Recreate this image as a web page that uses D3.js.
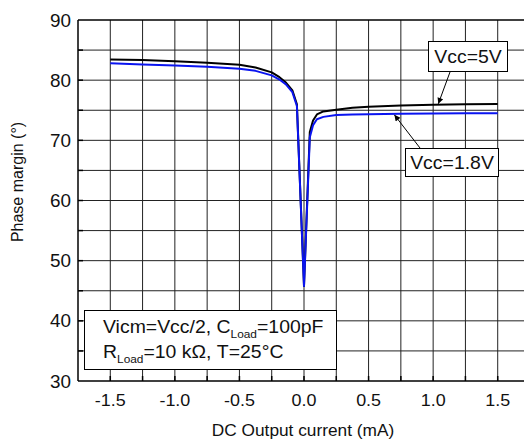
<!DOCTYPE html>
<html>
<head>
<meta charset="utf-8">
<script src="https://cdn.jsdelivr.net/npm/d3@7/dist/d3.min.js"></script>
<style>
  html, body { margin: 0; padding: 0; background: #fff; }
  svg { display: block; font-family: "Liberation Sans", Arial, sans-serif; }
</style>
</head>
<body>
<svg id="chart" width="524" height="441"></svg>
<script>
// Output current (mA) sample points
const currents = [-1.5, -1.25, -1.0, -0.75, -0.5, -0.375, -0.25, -0.19, -0.14, -0.09, -0.055, 0,
                  0.045, 0.07, 0.1, 0.15, 0.25, 0.375, 0.5, 0.75, 1.0, 1.25, 1.5];
// Phase margin (deg) at Vcc = 5 V
const pm5V = [83.45, 83.35, 83.15, 82.9, 82.55, 82.1, 81.3, 80.5, 79.6, 78.3, 76.0, 45.8,
              71.4, 73.3, 74.3, 74.8, 75.1, 75.4, 75.6, 75.8, 75.9, 76.0, 76.05];
// Phase margin (deg) at Vcc = 1.8 V
const pm1V8 = [82.8, 82.6, 82.45, 82.25, 81.9, 81.55, 80.8, 80.1, 79.3, 78.0, 75.7, 45.8,
               70.5, 72.5, 73.5, 73.9, 74.2, 74.3, 74.35, 74.4, 74.45, 74.5, 74.5];

const xTicks = [-1.5, -1.0, -0.5, 0.0, 0.5, 1.0, 1.5];
const xGrid = [-1.5, -1.25, -1.0, -0.75, -0.5, -0.25, 0, 0.25, 0.5, 0.75, 1.0, 1.25, 1.5];
const yTicks = [30, 40, 50, 60, 70, 80, 90];
const yGrid = [35, 40, 45, 50, 55, 60, 65, 70, 75, 80, 85];

const svg = d3.select("#chart");
const x = d3.scaleLinear().domain([-1.75, 1.75]).range([78, 530]);
const y = d3.scaleLinear().domain([30, 90]).range([381, 20]);

// text placed at (px, py) with a slight horizontal widening of the glyphs
function wideText(parent, px, py, sx, anchor, size) {
  return parent.append("g").attr("transform", `translate(${px},${py}) scale(${sx},1)`)
    .append("text").attr("text-anchor", anchor).attr("font-size", size).attr("fill", "#111");
}

// grid
const grid = svg.append("g").attr("stroke", "#222").attr("stroke-width", 1);
grid.selectAll("line.v").data(xGrid).join("line")
  .attr("x1", d => x(d)).attr("x2", d => x(d))
  .attr("y1", y(30)).attr("y2", y(90));
grid.selectAll("line.h").data(yGrid).join("line")
  .attr("x1", x(-1.75)).attr("x2", x(1.75))
  .attr("y1", d => y(d)).attr("y2", d => y(d));

// frame
const frame = svg.append("g").attr("stroke", "#000").attr("stroke-width", 1.5);
frame.append("line").attr("x1", x(-1.75)).attr("x2", x(1.75)).attr("y1", y(90)).attr("y2", y(90));
frame.append("line").attr("x1", x(-1.75)).attr("x2", x(-1.75)).attr("y1", y(30)).attr("y2", y(90));
frame.append("line").attr("x1", x(-1.75)).attr("x2", x(1.75)).attr("y1", y(30)).attr("y2", y(30));
frame.append("line").attr("x1", x(1.75)).attr("x2", x(1.75)).attr("y1", y(30)).attr("y2", y(90));

// inward tick marks
const ticks = svg.append("g").attr("stroke", "#000").attr("stroke-width", 1.5);
ticks.selectAll("line.bx").data(xGrid).join("line")
  .attr("x1", d => x(d)).attr("x2", d => x(d)).attr("y1", y(30)).attr("y2", y(30) - 5);
ticks.selectAll("line.ly").data(yGrid).join("line")
  .attr("x1", x(-1.75)).attr("x2", x(-1.75) + 5).attr("y1", d => y(d)).attr("y2", d => y(d));

// tick labels
const fmt = d => d3.format(".1f")(d).replace("\u2212", "-");
xTicks.forEach(d => wideText(svg, x(d), 406, 1.12, "middle", 16).text(fmt(d)));
yTicks.forEach(d => wideText(svg, 71, y(d) + 6.5, 1.05, "end", 18).text(d));

// axis titles
wideText(svg, 303, 436, 1.08, "middle", 16).text("DC Output current (mA)");
svg.append("text").attr("transform", "translate(23,182) rotate(-90)").attr("text-anchor", "middle")
  .attr("font-size", 16).attr("fill", "#111").text("Phase margin (°)");

// curves
const line = d3.line().x((d, i) => x(currents[i])).y(d => y(d));
svg.append("path").attr("d", line(pm5V)).attr("fill", "none")
  .attr("stroke", "#000").attr("stroke-width", 2).attr("stroke-linejoin", "round");
svg.append("path").attr("d", line(pm1V8)).attr("fill", "none")
  .attr("stroke", "#0a14f0").attr("stroke-width", 2).attr("stroke-linejoin", "round");

// arrow marker
svg.append("defs").append("marker")
  .attr("id", "arrow").attr("viewBox", "0 0 10 10").attr("refX", 10).attr("refY", 5)
  .attr("markerWidth", 9).attr("markerHeight", 6).attr("markerUnits", "userSpaceOnUse")
  .attr("orient", "auto")
  .append("path").attr("d", "M0,0 L10,5 L0,10 Z").attr("fill", "#000");

// series callouts
function callout(bx, by, bw, bh, label, ax, ay, tipX, tipY) {
  svg.append("line").attr("x1", ax).attr("y1", ay).attr("x2", tipX).attr("y2", tipY)
    .attr("stroke", "#000").attr("stroke-width", 1).attr("marker-end", "url(#arrow)");
  svg.append("rect").attr("x", bx).attr("y", by).attr("width", bw).attr("height", bh)
    .attr("fill", "#fff").attr("stroke", "#000").attr("stroke-width", 1);
  wideText(svg, bx + bw / 2, by + bh / 2 + 6.5, 1.08, "middle", 18).text(label);
}
callout(428.5, 41.5, 79, 30, "Vcc=5V", 450, 72, x(1.04), y(75.9) - 1);
callout(405.5, 148.5, 93, 28, "Vcc=1.8V", 420, 148, x(0.7), y(74.4) + 1);

// conditions box
const cond = svg.append("g");
cond.append("rect").attr("x", 84.5).attr("y", 310.5).attr("width", 252).attr("height", 59)
  .attr("fill", "#fff").attr("stroke", "#000").attr("stroke-width", 1);
const t1 = wideText(cond, 103, 333, 1.08, "start", 18);
t1.append("tspan").text("Vicm=Vcc/2, C");
t1.append("tspan").attr("font-size", 11).attr("dy", 5).text("Load");
t1.append("tspan").attr("dy", -5).text("=100pF");
const t2 = wideText(cond, 103, 358, 1.08, "start", 18);
t2.append("tspan").text("R");
t2.append("tspan").attr("font-size", 11).attr("dy", 5).text("Load");
t2.append("tspan").attr("dy", -5).text("=10 kΩ, T=25°C");
</script>
</body>
</html>
